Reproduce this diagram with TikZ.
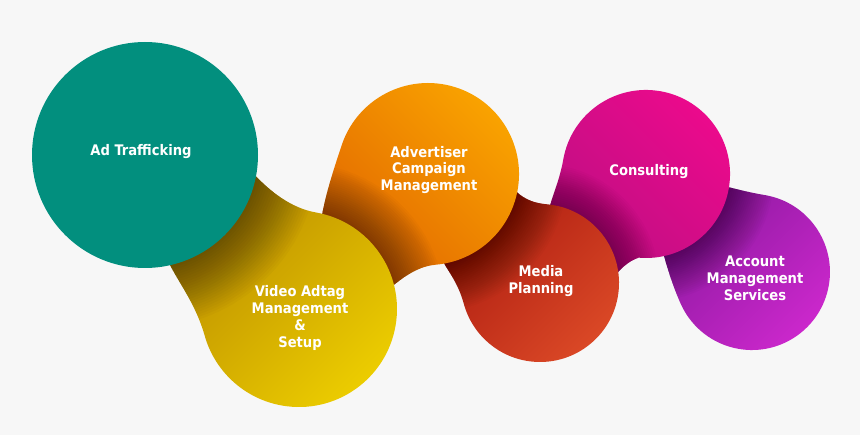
\documentclass[tikz,border=0pt]{standalone}
\usepackage{fontspec}
\newfontfamily\bubblefont{DejaVu Sans Condensed}
\usepackage{xcolor}
\usetikzlibrary{positioning,calc}

\definecolor{bgc}{RGB}{247,247,247}
\definecolor{tealc}{RGB}{2,143,126}
\definecolor{yeldark}{RGB}{185,138,0}
\definecolor{yelmid}{RGB}{218,178,0}
\definecolor{yellight}{RGB}{236,205,0}
\definecolor{ordark}{RGB}{225,100,0}
\definecolor{ormid}{RGB}{242,135,0}
\definecolor{orlight}{RGB}{250,165,0}
\definecolor{reddark}{RGB}{170,25,15}
\definecolor{redmid}{RGB}{198,42,22}
\definecolor{redlight}{RGB}{218,72,38}
\definecolor{magdark}{RGB}{185,15,130}
\definecolor{magmid}{RGB}{226,10,140}
\definecolor{maglight}{RGB}{236,10,140}
\definecolor{purdark}{RGB}{140,25,160}
\definecolor{purmid}{RGB}{185,30,195}
\definecolor{purlight}{RGB}{205,40,205}

% bubble outlines (circle plus neck running under the bubble before it)
\newcommand{\purpleblob}{(765.5,195.2) arc[start angle=-80, end angle=155, radius=78]
  .. controls (673,287) and (665,262) .. (660,240) -- (715,185)
  .. controls (728,186) and (740,191) .. cycle}
\newcommand{\magentablob}{(563.3,159.4) arc[start angle=190, end angle=455, radius=84]
  .. controls (620,264) and (612,282) .. (600,292) -- (548,215)
  .. controls (550,200) and (559,184) .. cycle}
\newcommand{\redblob}{(546.9,204.3) arc[start angle=-85, end angle=165, radius=79]
  .. controls (457,279) and (446,270) .. (440,255) -- (505,180)
  .. controls (515,190) and (522,202) .. cycle}
\newcommand{\orangeblob}{(342.5,142.9) arc[start angle=200, end angle=445, radius=91]
  .. controls (411,267) and (395,285) .. (375,300) -- (320,230)
  .. controls (322,205) and (333,171) .. cycle}
\newcommand{\yellowblob}{(316,212.5) arc[start angle=-80, end angle=165, radius=98]
  .. controls (194,300) and (178,283) .. (165,255) -- (250,170)
  .. controls (270,192) and (291,208) .. cycle}

\begin{document}
\begin{tikzpicture}[x=0.02cm, y=-0.02cm,
    bubbletext/.style={text=white, align=center,
      font=\bubblefont\bfseries\fontsize{8.3}{9.6}\selectfont},
    shadowring/.style={black, opacity=0.02}]
    % Background
    \fill[bgc] (0,0) rectangle (860,435);

    % Account Management Services
    \shade[top color=purdark, middle color=purmid, bottom color=purlight, shading angle=45] \purpleblob;
    \begin{scope}
      \clip \purpleblob;
      \foreach \k in {1,...,22}
        \fill[shadowring] (646,174) circle[radius=84+2*\k];
    \end{scope}

    % Consulting
    \shade[top color=magdark, middle color=magmid, bottom color=maglight, shading angle=135] \magentablob;
    \begin{scope}
      \clip \magentablob;
      \foreach \k in {1,...,20}
        \fill[shadowring] (540,283) circle[radius=79+2*\k];
    \end{scope}

    % Media Planning
    \shade[top color=reddark, middle color=redmid, bottom color=redlight, shading angle=45] \redblob;
    \begin{scope}
      \clip \redblob;
      \foreach \k in {1,...,24}
        \fill[shadowring] (428,174) circle[radius=91+2*\k];
    \end{scope}

    % Advertiser Campaign Management
    \shade[top color=ordark, middle color=ormid, bottom color=orlight, shading angle=135] \orangeblob;
    \begin{scope}
      \clip \orangeblob;
      \foreach \k in {1,...,24}
        \fill[shadowring] (299,309) circle[radius=98+2*\k];
    \end{scope}

    % Video Adtag Management & Setup
    \shade[top color=yeldark, middle color=yelmid, bottom color=yellight, shading angle=45] \yellowblob;
    \begin{scope}
      \clip \yellowblob;
      \foreach \k in {1,...,24}
        \fill[shadowring] (145,155) circle[radius=113+2.5*\k];
    \end{scope}

    % Ad Trafficking
    \fill[tealc] (145,155) circle[radius=113];

    % Labels
    \node[bubbletext] (adtraf) at (141,152) {Ad Trafficking};
    \node[bubbletext] (video) at (300,318) {Video Adtag\\Management\\\&\\Setup};
    \node[bubbletext] (advert) at (429,170) {Advertiser\\Campaign\\Management};
    \node[bubbletext] (media) at (541,281) {Media\\Planning};
    \node[bubbletext] (consult) at (649,172) {Consulting};
    \node[bubbletext] (account) at (755,278) {Account\\Management\\Services};
\end{tikzpicture}
\end{document}
